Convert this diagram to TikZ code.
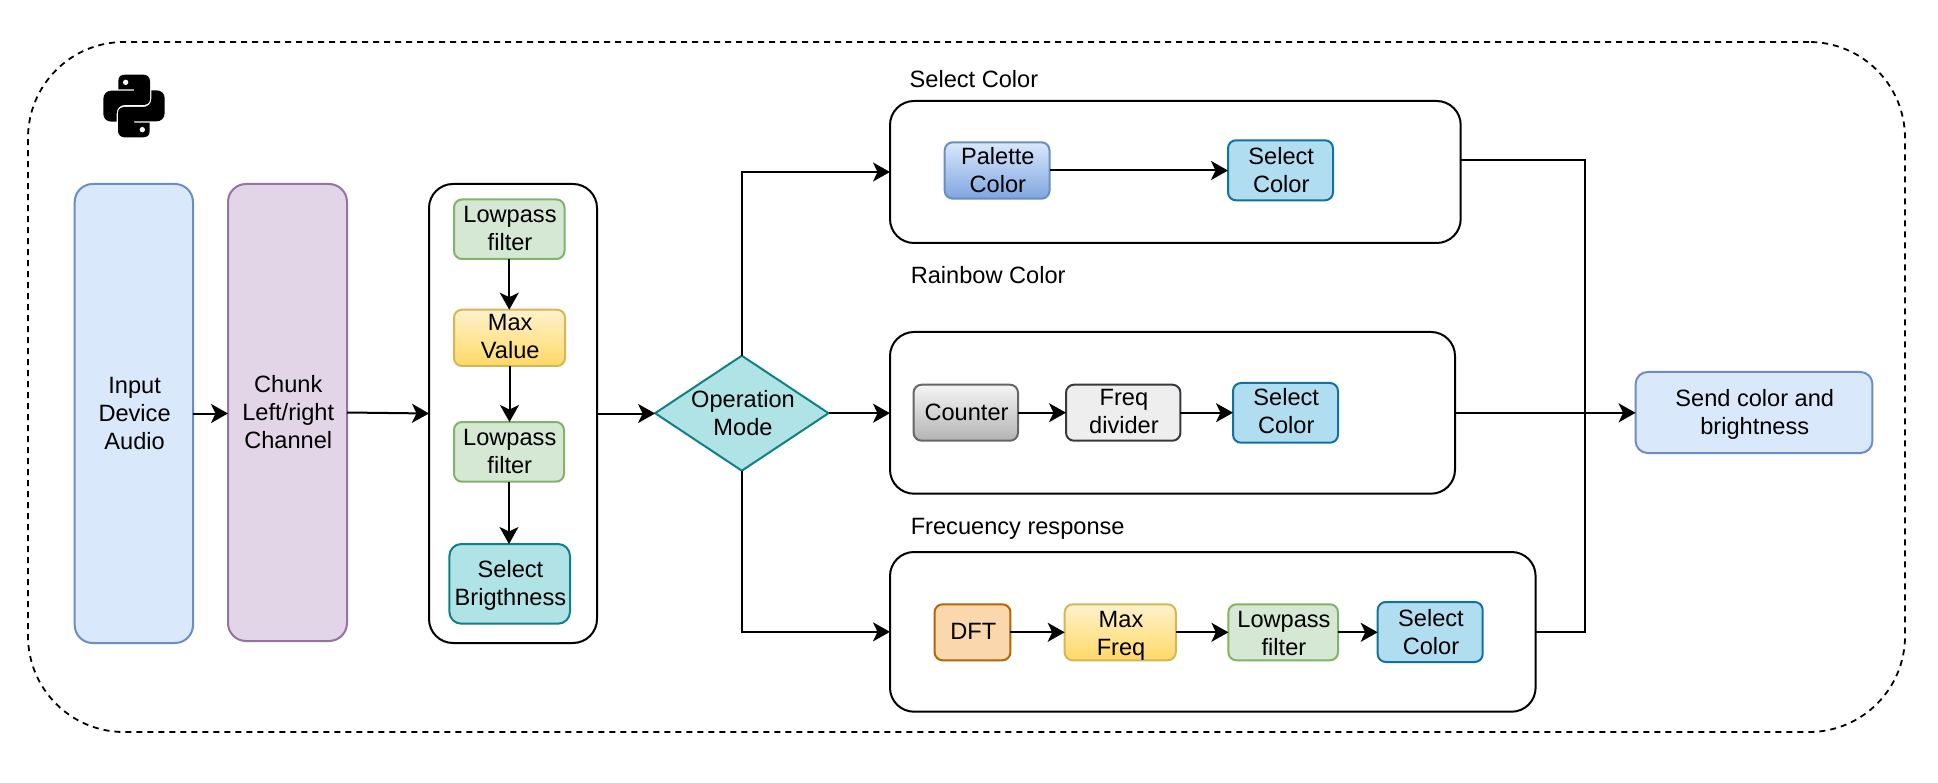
\documentclass[tikz,border=0pt]{standalone}
\usepackage{fontspec}
\setmainfont{Liberation Sans}
\usetikzlibrary{arrows.meta,shapes.geometric,calc}
\definecolor{blueF}{HTML}{DAE8FC}\definecolor{blueD}{HTML}{6C8EBF}
\definecolor{purpF}{HTML}{E1D5E7}\definecolor{purpD}{HTML}{9673A6}
\definecolor{grnF}{HTML}{D5E8D4}\definecolor{grnD}{HTML}{82B366}
\definecolor{yelT}{HTML}{FFF2CC}\definecolor{yelB}{HTML}{FFD966}\definecolor{yelD}{HTML}{D6B656}
\definecolor{tealF}{HTML}{B0E3E6}\definecolor{tealD}{HTML}{0E8088}
\definecolor{skyF}{HTML}{B1DDF0}\definecolor{skyD}{HTML}{10739E}
\definecolor{palB}{HTML}{7EA6E0}
\definecolor{gryT}{HTML}{F5F5F5}\definecolor{gryB}{HTML}{B3B3B3}\definecolor{gryD}{HTML}{666666}
\definecolor{lgrF}{HTML}{EEEEEE}\definecolor{lgrD}{HTML}{36393D}
\definecolor{orgF}{HTML}{FAD7AC}\definecolor{orgD}{HTML}{B46504}
\newcommand{\txtfont}{\fontsize{23.6}{28}\selectfont}
% name, x1, y1, x2, y2, style, text, text drop
\newcommand{\placebox}[8]{%
  \pgfmathsetmacro{\bxw}{#4-#2}\pgfmathsetmacro{\bxh}{#5-#3}%
  \pgfmathsetmacro{\bxx}{(#2+#4)/2}\pgfmathsetmacro{\bxy}{(#3+#5)/2}%
  \node[basebox,#6,minimum width=\bxw pt,minimum height=\bxh pt] (#1) at (\bxx,\bxy)
    {\hspace{1.5pt}\raisebox{\dimexpr-#8pt-5.9pt\relax}[0pt][0pt]{\begin{tabular}{@{}c@{}}#7\end{tabular}}};}
\newcommand{\pysnake}{%
  \fill[black] (-47,-50) -- (-47,-76) .. controls (-47,-88) and (-39,-94) .. (-27,-94)
    -- (28,-94) .. controls (40,-94) and (48,-86) .. (48,-74)
    -- (48,-21) .. controls (48,-10) and (40,-3) .. (28,-3)
    -- (-27,-3) .. controls (-42,-3) and (-52,7) .. (-52,22)
    -- (-52,47) -- (-67,47) .. controls (-82,47) and (-92,37) .. (-92,24)
    -- (-92,-21) .. controls (-92,-36) and (-82,-46) .. (-67,-46)
    -- (0,-46) -- (0,-50) -- cycle;
  \fill[white] (-25,-71) circle (8);}
\tikzset{
  x=1pt,y=-1pt,
  arrow/.style={line width=2pt,black,-{Stealth[length=17pt,width=19pt,inset=4.5pt]}},
  wire/.style={line width=2pt,black},
  basebox/.style={rectangle,draw,line width=2pt,inner sep=0pt,outer sep=0pt,align=center,font=\txtfont,text=black},
  blackgroup/.style={draw=black,fill=white,rounded corners=24pt},
  bluebox/.style={draw=blueD,fill=blueF,rounded corners=18pt},
  purplebox/.style={draw=purpD,fill=purpF,rounded corners=18pt},
  greenbox/.style={draw=grnD,fill=grnF,rounded corners=8pt},
  yellowbox/.style={draw=yelD,top color=yelT,bottom color=yelB,rounded corners=8pt},
  tealbox/.style={draw=tealD,fill=tealF,rounded corners=12pt},
  skybox/.style={draw=skyD,fill=skyF,rounded corners=8pt},
  palettebox/.style={draw=blueD,top color=blueF,bottom color=palB,rounded corners=8pt},
  graybox/.style={draw=gryD,top color=gryT,bottom color=gryB,rounded corners=8pt},
  lightbox/.style={draw=lgrD,fill=lgrF,rounded corners=8pt},
  orangebox/.style={draw=orgD,fill=orgF,rounded corners=8pt},
  sendbox/.style={draw=blueD,fill=blueF,rounded corners=12pt},
  title/.style={anchor=west,inner sep=0pt,font=\txtfont,text=black},
}
\begin{document}
\begin{tikzpicture}
\useasboundingbox[fill=white] (0,0) rectangle (1938,783);
\begin{scope}[shift={(0,1)}]
% outer dashed frame
\placebox{frame}{28}{41}{1905}{731}{draw=black,rounded corners=96pt,dash pattern=on 6pt off 5pt,line width=1.8pt}{}{0}
% python logo
\begin{scope}[shift={(134,105)},x=0.3333pt,y=-0.3333pt]
  \pysnake
  \begin{scope}[rotate=180]\pysnake\end{scope}
\end{scope}
% left column
\placebox{input}{74.7}{183}{193}{642}{bluebox}{Input\\Device\\Audio}{2.7}
\placebox{chunk}{228}{183}{347}{640}{purplebox}{Chunk\\Left/right\\Channel}{2.4}
\placebox{filters}{429}{183}{597}{642}{blackgroup}{}{0}
\placebox{lowa}{454}{198.5}{564.5}{258}{greenbox}{Lowpass\\filter}{1.8}
\placebox{maxv}{454}{308.7}{565}{365}{yellowbox}{Max\\Value}{1.2}
\placebox{lowb}{454}{421}{564}{480.7}{greenbox}{Lowpass\\filter}{2}
\placebox{bright}{449.4}{543}{570}{622.7}{tealbox}{Select\\Brigthness}{2.4}
% decision
\node[diamond,draw=tealD,fill=tealF,line width=2pt,inner sep=0pt,outer sep=0pt,minimum width=173.4pt,minimum height=115pt] (mode) at (741.8,412.2) {};
\node[align=center,font=\txtfont,inner sep=0pt] (modetext) at (743,412.3) {Operation\\Mode};
% group titles
\node[title] (t1) at (909.5,78.3) {Select Color};
\node[title] (t2) at (910.6,274.3) {Rainbow Color};
\node[title] (t3) at (910.6,527.7) {Frecuency response};
% groups
\placebox{selgrp}{890}{100}{1460.7}{242}{blackgroup}{}{0}
\placebox{raingrp}{890}{331}{1455}{492.7}{blackgroup}{}{0}
\placebox{freqgrp}{890}{551}{1535.6}{710.7}{blackgroup}{}{0}
% inner boxes
\placebox{palette}{944.7}{141.3}{1049.5}{197.7}{palettebox}{Palette\\Color}{3}
\placebox{scA}{1228}{139.3}{1333}{199.3}{skybox}{Select\\Color}{3}
\placebox{counter}{913.6}{383.7}{1018}{439.7}{graybox}{Counter}{2.4}
\placebox{divider}{1066}{383.7}{1180.4}{439.7}{lightbox}{Freq\\divider}{1.2}
\placebox{scB}{1233}{382}{1338}{441.7}{skybox}{Select\\Color}{1.2}
\placebox{dft}{934.6}{603.3}{1010.4}{659.3}{orangebox}{DFT}{2.4}
\placebox{maxf}{1064.7}{603.3}{1175.8}{659.3}{yellowbox}{Max\\Freq}{3.6}
\placebox{lowc}{1228.4}{603.3}{1338}{659.3}{greenbox}{Lowpass\\filter}{3.6}
\placebox{scC}{1377.7}{601}{1482.7}{661}{skybox}{Select\\Color}{3.2}
\placebox{send}{1635.6}{371}{1872.4}{452}{sendbox}{Send color and\\brightness}{3}
% connectors
\draw[arrow] (input.east) -- (input.east -| chunk.west);
\draw[arrow] (chunk.east) -- (filters.west);
\draw[arrow] (filters.east) -- (filters.east -| mode.west);
\draw[arrow] (lowa.south) -- (lowa.south |- maxv.north);
\draw[arrow] (maxv.south) -- (maxv.south |- lowb.north);
\draw[arrow] (lowb.south) -- (lowb.south |- bright.north);
\draw[arrow] (mode.north) |- (selgrp.west);
\draw[arrow] (mode.east) -- (mode.east -| raingrp.west);
\draw[arrow] (mode.south) |- (freqgrp.west);
\draw[arrow] (palette.east) -- (palette.east -| scA.west);
\draw[arrow] (counter.east) -- (divider.west);
\draw[arrow] (divider.east) -- (divider.east -| scB.west);
\draw[arrow] (dft.east) -- (maxf.west);
\draw[arrow] (maxf.east) -- (lowc.west);
\draw[arrow] (lowc.east) -- (lowc.east -| scC.west);
\coordinate (bustop) at (1585,159.3);
\coordinate (busmid) at (1585,412);
\draw[wire] (selgrp.east |- bustop) -- (bustop) -- (busmid);
\draw[wire] (freqgrp.east) -| (busmid);
\draw[arrow] (raingrp.east) -- (raingrp.east -| send.west);
\end{scope}
\end{tikzpicture}
\end{document}
